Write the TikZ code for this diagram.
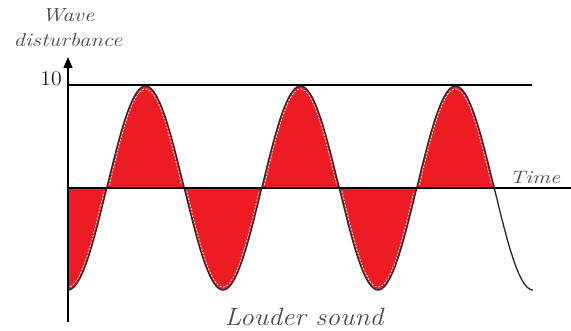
\documentclass[tikz,border=0pt]{standalone}
\usetikzlibrary{arrows.meta}
\definecolor{wavered}{RGB}{237,28,36}
\definecolor{txtgray}{RGB}{75,75,75}
\begin{document}
\begin{tikzpicture}[x=1pt,y=-1pt,
  axisline/.style={line width=1.5pt, black},
  refline/.style={line width=1.2pt, black},
  wavecurve/.style={line width=1.3pt, black!85},
  innerdash/.style={white, line width=0.7pt, dash pattern=on 2pt off 1.5pt},
  lbl/.style={text=txtgray, inner sep=0pt}]
\useasboundingbox (0,0) rectangle (571,331);
% red fill between wave and axis
\fill[wavered] plot[domain=68:494.25, samples=250] (\x,{188+102*cos(2.32258*(\x-68))}) -- (494.25,188) -- (68,188) -- cycle;
% inner white dashed lines
\foreach \c/\s in {145.5/-1, 300.5/-1, 455.5/-1, 223/1, 378/1}{
  \draw[innerdash] plot[domain=-38:38, samples=60] ({\c+0.95*\x},{188+\s*99*cos(2.32258*\x)});
}
\draw[innerdash] plot[domain=2:38, samples=40] ({68+0.95*\x},{188+99*cos(2.32258*\x)});
% wave curve
\draw[wavecurve] plot[domain=68:533, samples=300] (\x,{188+102*cos(2.32258*(\x-68))});
% reference lines
\coordinate (topL) at (68,85);
\coordinate (topR) at (532,85);
\coordinate (axL) at (68,188);
\coordinate (axR) at (571,188);
\coordinate (yb) at (68,322);
\coordinate (yt) at (68,57);
\draw[refline] (topL) -- (topR);
\draw[refline] (axL) -- (axR);
\draw[axisline, -{Triangle[length=11pt,width=9pt]}] (yb) -- (yt);
% labels
\node[lbl, font=\fontsize{19}{25}\selectfont\itshape, align=center, xscale=1.2] (wd) at (68,28) {Wave\\disturbance};
\node[lbl, text=black, font=\fontsize{21}{24}\selectfont, xscale=1.1] (ten) at (51,79) {10};
\node[lbl, font=\fontsize{18}{20}\selectfont\itshape, xscale=1.25] (time) at (535,177) {Time};
\node[lbl, font=\fontsize{25}{28}\selectfont\itshape, xscale=1.1] (loud) at (304,317) {Louder sound};
\end{tikzpicture}
\end{document}
